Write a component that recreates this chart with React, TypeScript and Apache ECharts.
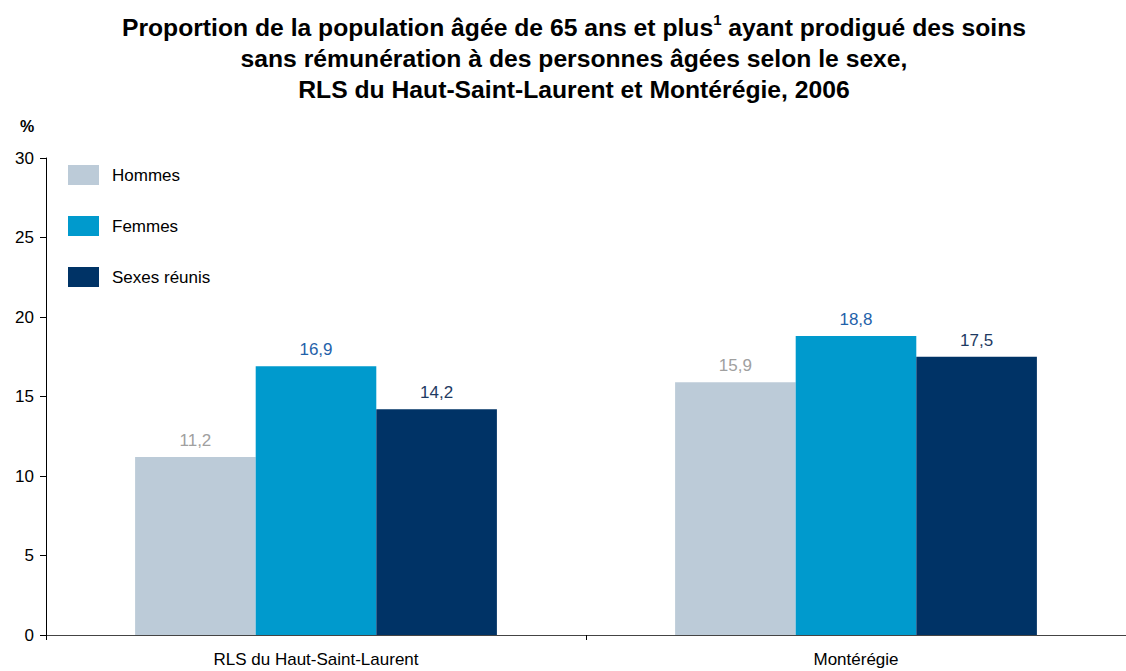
import React, { useEffect, useRef } from "react";
import * as echarts from "echarts";

const categories = ["RLS du Haut-Saint-Laurent", "Montérégie"];
const hommes = [11.2, 15.9];
const femmes = [16.9, 18.8];
const sexesReunis = [14.2, 17.5];
const seriesNames = ["Hommes", "Femmes", "Sexes réunis"];
const yTicks = [0, 5, 10, 15, 20, 25, 30];

const FONT = "Liberation Sans, Arial, sans-serif";
const TITLE =
  "Proportion de la population âgée de 65 ans et plus{sup|1} ayant prodigué des soins\nsans rémunération à des personnes âgées selon le sexe,\nRLS du Haut-Saint-Laurent et Montérégie, 2006";

export default function App() {
  const ref = useRef<HTMLDivElement>(null);
  useEffect(() => {
    if (!ref.current) return;
    const chart = echarts.init(ref.current, undefined, { renderer: "svg" });
    const fmt = (p: any) => Number(p.value).toFixed(1).replace(".", ",");
    const mk = (name: string, data: number[], color: string, labelColor: string) => ({
      name,
      type: "bar",
      data,
      barGap: "0%",
      barCategoryGap: "33%",
      itemStyle: { color },
      label: {
        show: true,
        position: "top",
        distance: 8,
        formatter: fmt,
        color: labelColor,
        fontSize: 17,
        fontFamily: FONT,
      },
    });
    chart.setOption({
      animation: false,
      textStyle: { fontFamily: FONT },
      graphic: [
        {
          type: "text",
          x: 574,
          y: 12,
          style: {
            text: TITLE,
            align: "center",
            verticalAlign: "top",
            fontFamily: FONT,
            fontSize: 24.7,
            fontWeight: "bold",
            fill: "#000",
            lineHeight: 31,
            rich: {
              sup: {
                fontFamily: FONT,
                fontSize: 15,
                fontWeight: "bold",
                fill: "#000",
                padding: [0, 0, 17, 0],
              },
            },
          },
        },
        {
          type: "text",
          left: 20,
          top: 118,
          style: { text: "%", fontFamily: FONT, fontSize: 16, fontWeight: "bold", fill: "#000" },
        },
      ],
      legend: {
        orient: "vertical",
        left: 68,
        top: 165,
        padding: 0,
        itemWidth: 31,
        itemHeight: 20,
        itemGap: 31,
        icon: "rect",
        data: seriesNames,
        textStyle: { fontFamily: FONT, fontSize: 17, color: "#000", padding: [0, 0, 0, 8] },
      },
      grid: { left: 46, right: 0, top: 158, bottom: 36, containLabel: false },
      xAxis: {
        type: "category",
        data: categories,
        axisLine: { lineStyle: { color: "#444", width: 1 } },
        axisTick: { show: true, length: 5, lineStyle: { color: "#000" } },
        axisLabel: { color: "#000", fontSize: 17, fontFamily: FONT, margin: 16 },
      },
      yAxis: {
        type: "value",
        min: yTicks[0],
        max: yTicks[yTicks.length - 1],
        interval: 5,
        splitLine: { show: false },
        axisLine: { show: true, lineStyle: { color: "#000", width: 1 } },
        axisTick: { show: true, length: 6, lineStyle: { color: "#000" } },
        axisLabel: { color: "#000", fontSize: 17, fontFamily: FONT, margin: 12 },
      },
      series: [
        mk(seriesNames[0], hommes, "#bccbd8", "#a0a0a0"),
        mk(seriesNames[1], femmes, "#009acd", "#1f62aa"),
        mk(seriesNames[2], sexesReunis, "#003366", "#1e3a62"),
      ],
    });
    return () => chart.dispose();
  }, []);
  return <div ref={ref} style={{ width: 1126, height: 671, position: "absolute", left: 0, top: 0 }} />;
}
